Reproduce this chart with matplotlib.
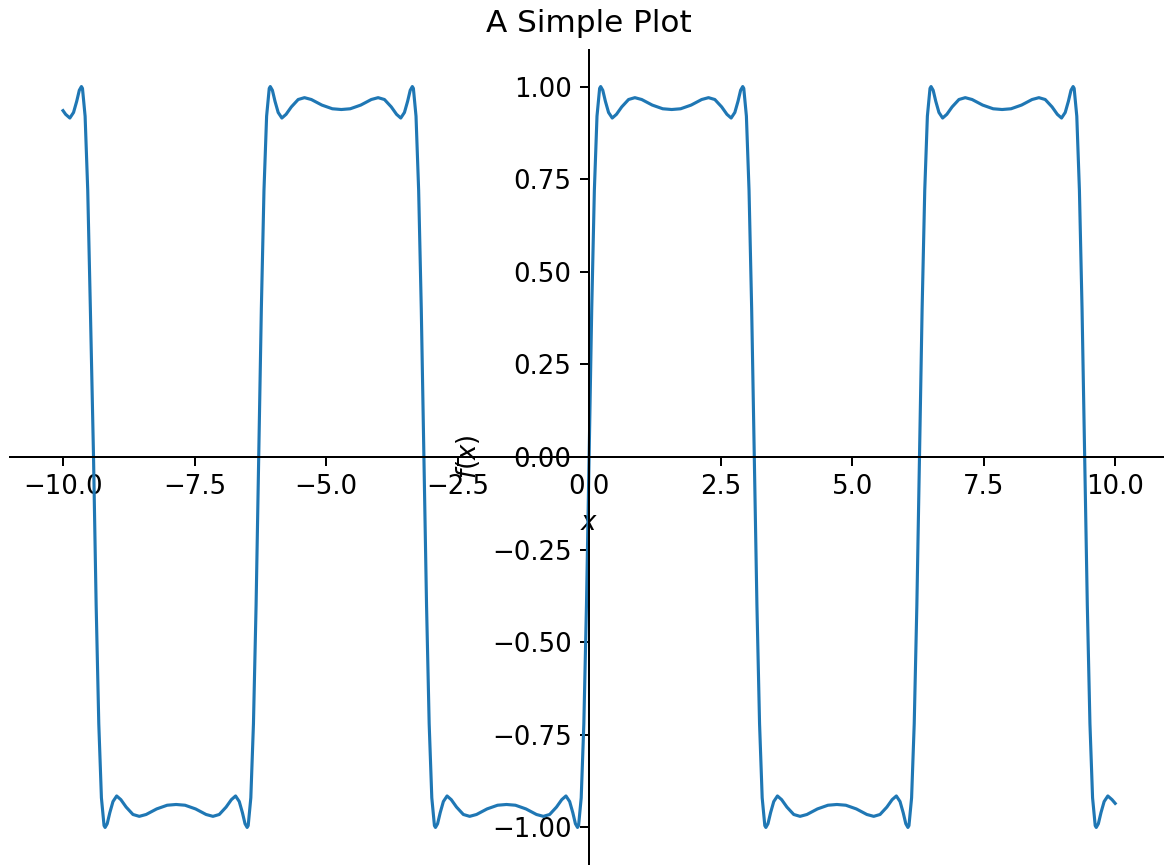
import numpy as np
import matplotlib.pyplot as plt

plt.rcParams['font.size'] = 10.4

# points, left to right
x_vals = [
    -10.00, -9.95, -9.87, -9.80, -9.74, -9.69, -9.65, -9.63, -9.58, -9.53, -9.48, -9.42,
    -9.37, -9.32, -9.27, -9.22, -9.20, -9.16, -9.11, -9.05, -8.98, -8.90, -8.80, -8.67,
    -8.55, -8.42, -8.22, -8.02, -7.85, -7.68, -7.48, -7.28, -7.15, -7.03, -6.90, -6.80,
    -6.72, -6.65, -6.59, -6.54, -6.50, -6.48, -6.43, -6.38, -6.33, -6.28,
    -6.23, -6.18, -6.13, -6.08, -6.06, -6.02, -5.97, -5.91, -5.84, -5.76, -5.66, -5.53,
    -5.41, -5.28, -5.08, -4.88, -4.71, -4.54, -4.34, -4.14, -4.01, -3.89, -3.76, -3.66,
    -3.58, -3.51, -3.45, -3.40, -3.36, -3.34, -3.29, -3.24, -3.19, -3.14,
    -3.09, -3.04, -2.99, -2.94, -2.92, -2.88, -2.83, -2.77, -2.70, -2.62, -2.52, -2.39,
    -2.27, -2.14, -1.94, -1.74, -1.57, -1.40, -1.20, -1.00, -0.87, -0.75, -0.62, -0.52,
    -0.44, -0.37, -0.31, -0.26, -0.22, -0.20, -0.15, -0.10, -0.05, 0.00,
    0.05, 0.10, 0.15, 0.20, 0.22, 0.26, 0.31, 0.37, 0.44, 0.52, 0.62, 0.75,
    0.87, 1.00, 1.20, 1.40, 1.57, 1.74, 1.94, 2.14, 2.27, 2.39, 2.52, 2.62,
    2.70, 2.77, 2.83, 2.88, 2.92, 2.94, 2.99, 3.04, 3.09, 3.14,
    3.19, 3.24, 3.29, 3.34, 3.36, 3.40, 3.45, 3.51, 3.58, 3.66, 3.76, 3.89,
    4.01, 4.14, 4.34, 4.54, 4.71, 4.88, 5.08, 5.28, 5.41, 5.53, 5.66, 5.76,
    5.84, 5.91, 5.97, 6.02, 6.06, 6.08, 6.13, 6.18, 6.23, 6.28,
    6.33, 6.38, 6.43, 6.48, 6.50, 6.54, 6.59, 6.65, 6.72, 6.80, 6.90, 7.03,
    7.15, 7.28, 7.48, 7.68, 7.85, 8.02, 8.22, 8.42, 8.55, 8.67, 8.80, 8.90,
    8.98, 9.05, 9.11, 9.16, 9.20, 9.22, 9.27, 9.32, 9.37, 9.42,
    9.47, 9.52, 9.57, 9.62, 9.64, 9.68, 9.73, 9.79, 9.86, 9.94, 10.00,
]
y_vals = [
    0.935, 0.925, 0.915, 0.93, 0.96, 0.99, 1.00, 0.995, 0.92, 0.72, 0.40, 0.00,
    -0.40, -0.72, -0.92, -0.995, -1.00, -0.99, -0.96, -0.93, -0.915, -0.925, -0.945, -0.965,
    -0.97, -0.965, -0.95, -0.94, -0.938, -0.94, -0.95, -0.965, -0.97, -0.965, -0.945, -0.925,
    -0.915, -0.93, -0.96, -0.99, -1.00, -0.995, -0.92, -0.72, -0.40, 0.00,
    0.40, 0.72, 0.92, 0.995, 1.00, 0.99, 0.96, 0.93, 0.915, 0.925, 0.945, 0.965,
    0.97, 0.965, 0.95, 0.94, 0.938, 0.94, 0.95, 0.965, 0.97, 0.965, 0.945, 0.925,
    0.915, 0.93, 0.96, 0.99, 1.00, 0.995, 0.92, 0.72, 0.40, 0.00,
    -0.40, -0.72, -0.92, -0.995, -1.00, -0.99, -0.96, -0.93, -0.915, -0.925, -0.945, -0.965,
    -0.97, -0.965, -0.95, -0.94, -0.938, -0.94, -0.95, -0.965, -0.97, -0.965, -0.945, -0.925,
    -0.915, -0.93, -0.96, -0.99, -1.00, -0.995, -0.92, -0.72, -0.40, 0.00,
    0.40, 0.72, 0.92, 0.995, 1.00, 0.99, 0.96, 0.93, 0.915, 0.925, 0.945, 0.965,
    0.97, 0.965, 0.95, 0.94, 0.938, 0.94, 0.95, 0.965, 0.97, 0.965, 0.945, 0.925,
    0.915, 0.93, 0.96, 0.99, 1.00, 0.995, 0.92, 0.72, 0.40, 0.00,
    -0.40, -0.72, -0.92, -0.995, -1.00, -0.99, -0.96, -0.93, -0.915, -0.925, -0.945, -0.965,
    -0.97, -0.965, -0.95, -0.94, -0.938, -0.94, -0.95, -0.965, -0.97, -0.965, -0.945, -0.925,
    -0.915, -0.93, -0.96, -0.99, -1.00, -0.995, -0.92, -0.72, -0.40, 0.00,
    0.40, 0.72, 0.92, 0.995, 1.00, 0.99, 0.96, 0.93, 0.915, 0.925, 0.945, 0.965,
    0.97, 0.965, 0.95, 0.94, 0.938, 0.94, 0.95, 0.965, 0.97, 0.965, 0.945, 0.925,
    0.915, 0.93, 0.96, 0.99, 1.00, 0.995, 0.92, 0.72, 0.40, 0.00,
    -0.40, -0.72, -0.92, -0.995, -1.00, -0.99, -0.96, -0.93, -0.915, -0.925, -0.935,
]

fig = plt.figure(figsize=(1164 / 180, 865 / 180), dpi=180)
ax = fig.add_axes([10.4 / 1164, 0.5 / 865, 1157.4 / 1164, 815 / 865])

ax.plot(x_vals, y_vals, color='C0', linewidth=1.25)

# sympy style axes through the origin
ax.spines['left'].set_position('zero')
ax.spines['bottom'].set_position('zero')
ax.spines['top'].set_visible(False)
ax.spines['right'].set_visible(False)

ax.set_xlim(-11, 11)
ax.set_ylim(-1.1, 1.1)
ax.set_xlabel('$x$')
ax.set_ylabel(r'$f{\left(x \right)}$')
ax.set_title('A Simple Plot', pad=7)

fig.savefig('out.png', dpi=180)
